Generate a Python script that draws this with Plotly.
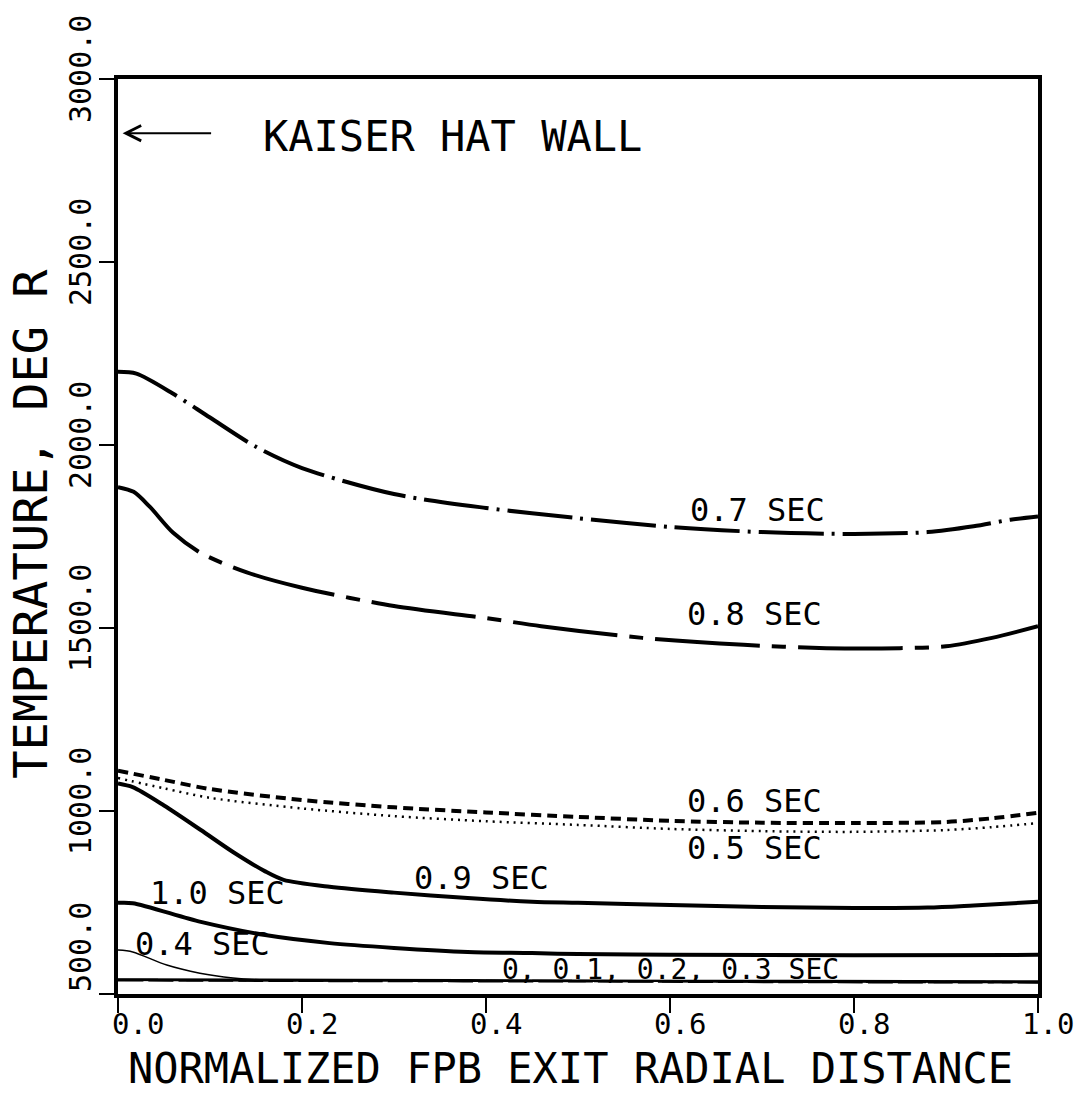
import plotly.graph_objects as go

# Radial temperature profiles at the FPB exit, one curve per time slice.
x_07 = [0, 0.02, 0.06, 0.10, 0.15, 0.20, 0.30, 0.40, 0.50, 0.60, 0.70, 0.80, 0.88, 0.93, 0.97, 1.0]
t_07 = [2200, 2195, 2140, 2075, 1995, 1937, 1866, 1828, 1800, 1776, 1762, 1757, 1762, 1778, 1796, 1805]

x_08 = [0, 0.017, 0.035, 0.06, 0.09, 0.14, 0.20, 0.30, 0.40, 0.46, 0.57, 0.68, 0.77, 0.85, 0.90, 0.95, 1.0]
t_08 = [1885, 1872, 1830, 1760, 1705, 1652, 1610, 1560, 1527, 1505, 1473, 1454, 1445, 1445, 1450, 1473, 1505]

x_06 = [0, 0.05, 0.10, 0.20, 0.30, 0.40, 0.50, 0.60, 0.70, 0.80, 0.90, 0.95, 1.0]
t_06 = [1110, 1085, 1060, 1030, 1010, 996, 984, 973, 968, 967, 970, 980, 995]

x_05 = [0, 0.05, 0.10, 0.20, 0.30, 0.40, 0.50, 0.60, 0.70, 0.80, 0.90, 0.95, 1.0]
t_05 = [1090, 1062, 1036, 1007, 986, 972, 962, 951, 945, 943, 948, 956, 967]

x_09 = [0, 0.016, 0.05, 0.09, 0.125, 0.16, 0.18, 0.23, 0.30, 0.38, 0.45, 0.50, 0.60, 0.70, 0.80, 0.88, 0.93, 1.0]
t_09 = [1075, 1065, 1015, 948, 888, 835, 812, 793, 777, 762, 752, 749, 743, 738, 735, 736, 742, 752]

x_10 = [0, 0.016, 0.09, 0.16, 0.23, 0.30, 0.38, 0.45, 0.50, 0.60, 0.80, 1.0]
t_10 = [749, 748, 697, 661, 639, 626, 615, 612, 609, 607, 606, 607]

x_04 = [0, 0.016, 0.053, 0.089, 0.125, 0.16, 0.20, 0.40, 0.60, 0.80, 1.0]
t_04 = [620, 615, 579, 557, 544, 538, 537, 536, 535, 534, 533]

x_base = [0, 0.25, 0.5, 0.75, 1.0]
t_00 = [540, 539, 537, 536, 535]
t_01 = [539, 537, 536, 534, 533]
t_02 = [538, 536, 535, 533, 532]
t_03 = [537, 535, 534, 532, 531]

x_tick_vals = [0.0, 0.2, 0.4, 0.6, 0.8, 1.0]
x_tick_text = ["0.0", "0.2", "0.4", "0.6", "0.8", "1.0"]
y_tick_vals = [500, 1000, 1500, 2000, 2500, 3000]
y_tick_text = ["500.0", "1000.0", "1500.0", "2000.0", "2500.0", "3000.0"]

FONT = "DejaVu Sans Mono"
INK = "black"

fig = go.Figure()


def curve(x, y, width, dash="solid"):
    fig.add_trace(go.Scatter(
        x=x, y=y, mode="lines",
        line=dict(color=INK, width=width, dash=dash, shape="spline", smoothing=0.8),
        showlegend=False, hoverinfo="skip",
    ))


curve(x_07, t_07, 4, "65px,8px,3px,8px")
curve(x_08, t_08, 4, "105px,12px,14px,12px")
curve(x_06, t_06, 4, "10px,6px")
curve(x_05, t_05, 2.5, "2px,5px")
curve(x_09, t_09, 4)
curve(x_10, t_10, 4)
curve(x_04, t_04, 1.5)
curve(x_base, t_00, 2)
curve(x_base, t_01, 2, "40px,6px")
curve(x_base, t_02, 2, "60px,8px")
curve(x_base, t_03, 2, "25px,5px")

annotations = []


def label(text, x, y, size=32):
    annotations.append(dict(
        x=x, y=y, xref="x", yref="y", text=text, showarrow=False,
        font=dict(family=FONT, size=size, color=INK),
        xanchor="center", yanchor="middle",
    ))


label("0.7 SEC", 0.695, 1822)
label("0.8 SEC", 0.692, 1538)
label("0.6 SEC", 0.692, 1027)
label("0.5 SEC", 0.692, 899)
label("0.9 SEC", 0.395, 817)
label("1.0 SEC", 0.108, 776)
label("0.4 SEC", 0.092, 637)
label("0, 0.1, 0.2, 0.3 SEC", 0.60, 568, size=28)
label("KAISER HAT WALL", 0.364, 2844, size=42)

# Arrow pointing at the hat wall (left edge of the plot)
annotations.append(dict(
    x=0.005, y=2852, xref="x", yref="y", text="", showarrow=True,
    ax=90, ay=0, arrowhead=5, arrowsize=1.5, arrowwidth=2, arrowcolor=INK,
))

# Tick labels along the bottom axis
for i, (v, t) in enumerate(zip(x_tick_vals, x_tick_text)):
    annotations.append(dict(
        x=v, y=0, xref="x", yref="paper", text=t, showarrow=False,
        font=dict(family=FONT, size=29, color=INK),
        xanchor="left" if i == 0 else "center",
        xshift=-8 if i == 0 else 10,
        yanchor="middle", yshift=-30,
    ))

# Rotated tick labels along the left axis
for i, (v, t) in enumerate(zip(y_tick_vals, y_tick_text)):
    annotations.append(dict(
        x=0, y=v, xref="paper", yref="y", text=t, showarrow=False,
        font=dict(family=FONT, size=30, color=INK), textangle=-90,
        xanchor="center", xshift=-38,
        yanchor="bottom" if i == 0 else "middle",
        yshift=0 if i == 0 else 10,
    ))

# Axis titles
annotations.append(dict(
    x=0.5, y=0, xref="paper", yref="paper",
    text="NORMALIZED FPB EXIT RADIAL DISTANCE", showarrow=False,
    font=dict(family=FONT, size=42, color=INK),
    xanchor="center", xshift=-8, yanchor="middle", yshift=-74,
))
annotations.append(dict(
    x=0, y=0.514, xref="paper", yref="paper",
    text="TEMPERATURE, DEG R", showarrow=False, textangle=-90,
    font=dict(family=FONT, size=47, color=INK),
    xanchor="center", xshift=-87, yanchor="middle",
))

axis_common = dict(
    showgrid=False, zeroline=False, showline=True, linecolor=INK, linewidth=4,
    mirror=True, ticks="outside", ticklen=15, tickwidth=2, tickcolor=INK,
    showticklabels=False,
)

fig.update_layout(
    width=1084, height=1110,
    margin=dict(l=118, r=46, t=79, b=116),
    paper_bgcolor="white", plot_bgcolor="white",
    xaxis=dict(range=[0, 1], tickvals=x_tick_vals, **axis_common),
    yaxis=dict(range=[500, 3000], tickvals=y_tick_vals, **axis_common),
    annotations=annotations,
    showlegend=False,
)

fig.write_html("out.html")
